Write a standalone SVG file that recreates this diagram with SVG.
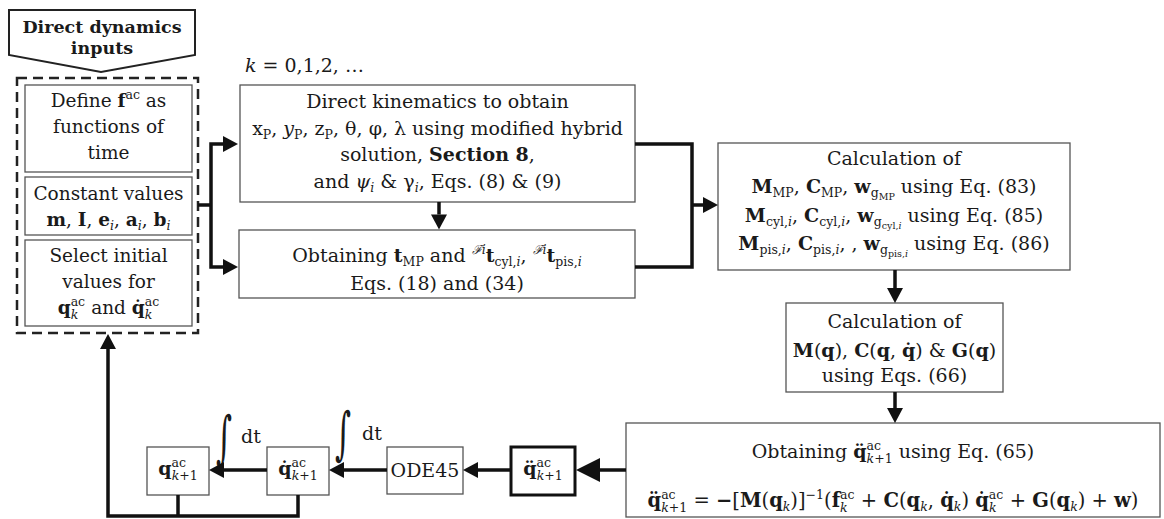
<svg xmlns="http://www.w3.org/2000/svg" width="1164" height="519" viewBox="0 0 1164 519">
<defs>
<style>
.t{font-family:"DejaVu Serif","Liberation Serif",serif;font-size:18.5px;fill:#1a1a1a}
.b{font-weight:bold}
.i{font-style:italic}
.s{font-size:12.5px}
.ss{font-size:9.5px}
.big{font-size:19px}
.eq{font-size:19.5px}
.int{font-size:44px;font-weight:normal}
.box{fill:#fff;stroke:#555;stroke-width:1.3}
.conn{fill:none;stroke:#111;stroke-width:3.5;stroke-linejoin:miter}
</style>
<marker id="ah" markerUnits="userSpaceOnUse" markerWidth="16" markerHeight="16" refX="0" refY="8" orient="auto-start-reverse" overflow="visible"><path d="M0,0 L15,8 L0,16 z" fill="#111"/></marker>
<marker id="ahb" markerUnits="userSpaceOnUse" markerWidth="25" markerHeight="25" refX="0" refY="12" orient="auto" overflow="visible"><path d="M0,0 L24,12 L0,24 z" fill="#111"/></marker>
</defs>
<rect width="1164" height="519" fill="#fff"/>

<g id="inputs-banner">
<polygon points="9,10 195,10 195,55 101,72 9,55" fill="#fff" stroke="#222" stroke-width="2"/>
<text class="t b" x="102" y="33" text-anchor="middle" style="font-size:17.5px">Direct dynamics</text>
<text class="t b" x="102" y="54" text-anchor="middle" style="font-size:17.5px">inputs</text>
</g>

<g id="inputs-group">
<rect x="17" y="78" width="181" height="255" fill="none" stroke="#222" stroke-width="2.5" stroke-dasharray="10,6"/>
</g>

<g id="define-f">
<rect class="box" x="25" y="85" width="167" height="87"/>
<text class="t" x="108.5" y="107" text-anchor="middle">Define <tspan class="b">f</tspan><tspan class="s" dy="-8">ac</tspan><tspan dy="8"> as</tspan></text>
<text class="t" x="108.5" y="133" text-anchor="middle">functions of</text>
<text class="t" x="108.5" y="159" text-anchor="middle">time</text>
</g>

<g id="constants">
<rect class="box" x="25" y="177" width="167" height="58"/>
<text class="t" x="108.5" y="200" text-anchor="middle">Constant values</text>
<text class="t" x="108.5" y="226" text-anchor="middle"><tspan class="b">m</tspan>, <tspan class="b">I</tspan>, <tspan class="b">e</tspan><tspan class="s i" dy="4">i</tspan><tspan dy="-4">, </tspan><tspan class="b">a</tspan><tspan class="s i" dy="4">i</tspan><tspan dy="-4">, </tspan><tspan class="b">b</tspan><tspan class="s i" dy="4">i</tspan></text>
</g>

<g id="initial-values">
<rect class="box" x="25" y="240" width="167" height="86"/>
<text class="t" x="108.5" y="262" text-anchor="middle">Select initial</text>
<text class="t" x="108.5" y="288" text-anchor="middle">values for</text>
<text class="t" x="108.5" y="314" text-anchor="middle"><tspan class="b">q</tspan><tspan class="s" dy="-8">ac</tspan><tspan class="s i" dx="-14.4" dy="13">k</tspan><tspan dx="7" dy="-5"> and </tspan><tspan class="b">q̇</tspan><tspan class="s" dy="-8">ac</tspan><tspan class="s i" dx="-14.4" dy="13">k</tspan><tspan dx="7" dy="-5"> </tspan></text>
</g>

<g id="k-label">
<text class="t big" x="245" y="72"><tspan class="i">k</tspan> = 0,1,2, …</text>
</g>

<g id="direct-kinematics">
<rect class="box" x="240" y="85" width="395" height="117"/>
<text class="t big" x="437.5" y="108" text-anchor="middle">Direct kinematics to obtain</text>
<text class="t big" x="437.5" y="135" text-anchor="middle">x<tspan class="s" dy="4">P</tspan><tspan dy="-4">, </tspan><tspan class="i">y</tspan><tspan class="s" dy="4">P</tspan><tspan dy="-4">, z</tspan><tspan class="s" dy="4">P</tspan><tspan dy="-4">, θ, φ, λ using modified hybrid</tspan></text>
<text class="t big" x="437.5" y="161" text-anchor="middle">solution, <tspan class="b">Section 8</tspan>,</text>
<text class="t big" x="437.5" y="188" text-anchor="middle">and <tspan class="i">ψ</tspan><tspan class="s i" dy="4">i</tspan><tspan dy="-4"> &amp; γ</tspan><tspan class="s i" dy="4">i</tspan><tspan dy="-4">, Eqs. (8) &amp; (9)</tspan></text>
</g>

<g id="obtaining-t">
<rect class="box" x="239" y="230" width="396" height="68"/>
<text class="t big" x="437" y="262" text-anchor="middle">Obtaining <tspan class="b">t</tspan><tspan class="s" dy="4">MP</tspan><tspan dy="-4"> and </tspan><tspan class="s i" dy="-8">ℱi</tspan><tspan class="b" dy="8">t</tspan><tspan class="s" dy="4">cyl,<tspan class="i">i</tspan></tspan><tspan dy="-4">, </tspan><tspan class="s i" dy="-8">ℱi</tspan><tspan class="b" dy="8">t</tspan><tspan class="s" dy="4">pis,<tspan class="i">i</tspan></tspan></text>
<text class="t big" x="437" y="290" text-anchor="middle">Eqs. (18) and (34)</text>
</g>

<g id="calc-matrices">
<rect class="box" x="718" y="143" width="352" height="127"/>
<text class="t big" x="894" y="165" text-anchor="middle">Calculation of</text>
<text class="t big" x="894" y="193" text-anchor="middle"><tspan class="b">M</tspan><tspan class="s" dy="4">MP</tspan><tspan dy="-4">, </tspan><tspan class="b">C</tspan><tspan class="s" dy="4">MP</tspan><tspan dy="-4">, </tspan><tspan class="b">w</tspan><tspan class="s" dy="4">g</tspan><tspan class="ss" dy="3">MP</tspan><tspan dy="-7"> using Eq. (83)</tspan></text>
<text class="t big" x="894" y="222" text-anchor="middle"><tspan class="b">M</tspan><tspan class="s" dy="4">cyl,<tspan class="i">i</tspan></tspan><tspan dy="-4">, </tspan><tspan class="b">C</tspan><tspan class="s" dy="4">cyl,<tspan class="i">i</tspan></tspan><tspan dy="-4">, </tspan><tspan class="b">w</tspan><tspan class="s" dy="4">g</tspan><tspan class="ss" dy="3">cyl,<tspan class="i">i</tspan></tspan><tspan dy="-7"> using Eq. (85)</tspan></text>
<text class="t big" x="894" y="250" text-anchor="middle"><tspan class="b">M</tspan><tspan class="s" dy="4">pis,<tspan class="i">i</tspan></tspan><tspan dy="-4">, </tspan><tspan class="b">C</tspan><tspan class="s" dy="4">pis,<tspan class="i">i</tspan></tspan><tspan dy="-4">, , </tspan><tspan class="b">w</tspan><tspan class="s" dy="4">g</tspan><tspan class="ss" dy="3">pis,<tspan class="i">i</tspan></tspan><tspan dy="-7"> using Eq. (86)</tspan></text>
</g>

<g id="calc-mcg">
<rect class="box" x="786" y="303" width="217" height="89"/>
<text class="t big" x="894.5" y="328" text-anchor="middle">Calculation of</text>
<text class="t big" x="894.5" y="357" text-anchor="middle"><tspan class="b">M</tspan>(<tspan class="b">q</tspan>), <tspan class="b">C</tspan>(<tspan class="b">q</tspan>, <tspan class="b">q̇</tspan>) &amp; <tspan class="b">G</tspan>(<tspan class="b">q</tspan>)</text>
<text class="t big" x="894.5" y="382" text-anchor="middle">using Eqs. (66)</text>
</g>

<g id="obtaining-qdd">
<rect class="box" x="626" y="423" width="534" height="94"/>
<text class="t big" x="893" y="458" text-anchor="middle">Obtaining <tspan class="b">q̈</tspan><tspan class="s" dy="-8">ac</tspan><tspan class="s" dx="-14.4" dy="13"><tspan class="i">k</tspan>+1</tspan><tspan dy="-5"> using Eq. (65)</tspan></text>
<text class="t eq" x="893" y="507" text-anchor="middle"><tspan class="b">q̈</tspan><tspan class="s" dy="-8">ac</tspan><tspan class="s" dx="-14.4" dy="13"><tspan class="i">k</tspan>+1</tspan><tspan dy="-5"> = </tspan><tspan class="b">−</tspan>[<tspan class="b">M</tspan>(<tspan class="b">q</tspan><tspan class="s i" dy="4">k</tspan><tspan dy="-4">)]</tspan><tspan class="s" dy="-8">−1</tspan><tspan dy="8">(</tspan><tspan class="b">f</tspan><tspan class="s" dy="-8">ac</tspan><tspan class="s i" dx="-14.4" dy="13">k</tspan><tspan dx="7" dy="-5"> + </tspan><tspan class="b">C</tspan>(<tspan class="b">q</tspan><tspan class="s i" dy="4">k</tspan><tspan dy="-4">, </tspan><tspan class="b">q̇</tspan><tspan class="s i" dy="4">k</tspan><tspan dy="-4">) </tspan><tspan class="b">q̇</tspan><tspan class="s" dy="-8">ac</tspan><tspan class="s i" dx="-14.4" dy="13">k</tspan><tspan dx="7" dy="-5"> + </tspan><tspan class="b">G</tspan>(<tspan class="b">q</tspan><tspan class="s i" dy="4">k</tspan><tspan dy="-4">) + </tspan><tspan class="b">w</tspan>)</text>
</g>

<g id="qdd-box">
<rect x="511" y="447" width="64" height="48" fill="#fff" stroke="#111" stroke-width="3"/>
<text class="t big" x="543" y="475" text-anchor="middle"><tspan class="b">q̈</tspan><tspan class="s" dy="-8">ac</tspan><tspan class="s" dx="-14.4" dy="13"><tspan class="i">k</tspan>+1</tspan></text>
</g>

<g id="ode45">
<rect class="box" x="387" y="447" width="76" height="47"/>
<text class="t big" x="425" y="477" text-anchor="middle">ODE45</text>
</g>

<g id="qd-box">
<rect class="box" x="267" y="447" width="62" height="48"/>
<text class="t big" x="298" y="475" text-anchor="middle"><tspan class="b">q̇</tspan><tspan class="s" dy="-8">ac</tspan><tspan class="s" dx="-14.4" dy="13"><tspan class="i">k</tspan>+1</tspan></text>
</g>

<g id="q-box">
<rect class="box" x="147" y="447" width="62" height="48"/>
<text class="t big" x="178" y="475" text-anchor="middle"><tspan class="b">q</tspan><tspan class="s" dy="-8">ac</tspan><tspan class="s" dx="-14.4" dy="13"><tspan class="i">k</tspan>+1</tspan></text>
</g>

<g id="integral-labels">
<text class="t int" transform="translate(216,457) scale(0.7,1.3)">∫</text>
<text class="t big" x="241" y="443">dt</text>
<text class="t int" transform="translate(335,453) scale(0.7,1.3)">∫</text>
<text class="t big" x="362" y="440">dt</text>
</g>

<g id="connectors">
<path class="conn" d="M198,205 H211"/>
<path class="conn" d="M223,144 H211 V267 H223" marker-start="url(#ah)" marker-end="url(#ah)"/>
<path class="conn" d="M439,202 V214.5" marker-end="url(#ah)"/>
<path class="conn" d="M635,144 H692 V267 H635"/>
<path class="conn" d="M692,205 H703" marker-end="url(#ah)"/>
<path class="conn" d="M895,270 V288" marker-end="url(#ah)"/>
<path class="conn" d="M895,392 V408" marker-end="url(#ah)"/>
<path class="conn" d="M626,470 H600" stroke-width="8" marker-end="url(#ahb)"/>
<path class="conn" d="M511,470 H478" stroke-width="4" marker-end="url(#ah)"/>
<path class="conn" d="M387,470 H344" stroke-width="4" marker-end="url(#ah)"/>
<path class="conn" d="M267,470 H224" stroke-width="4" marker-end="url(#ah)"/>
<path class="conn" d="M298,495 V516 H108 V349" stroke-width="4" marker-end="url(#ah)"/>
<path class="conn" d="M178,495 V516" stroke-width="4"/>
</g>
</svg>
